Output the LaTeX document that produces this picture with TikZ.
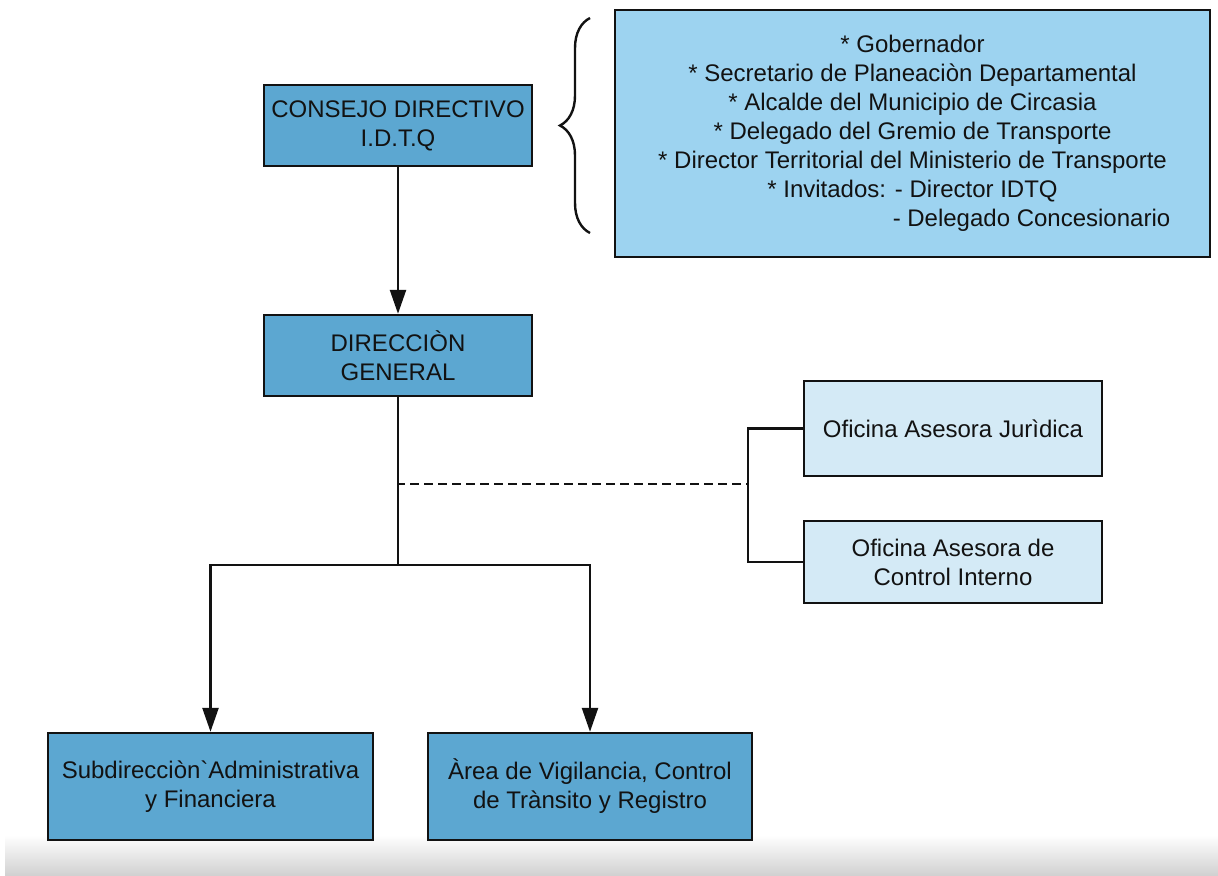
\documentclass[tikz,border=0pt]{standalone}
\usepackage{fontspec}
\setmainfont{Liberation Sans}
\usepackage{tikz}
\usetikzlibrary{arrows.meta}
\usetikzlibrary{decorations.pathreplacing}
\usepackage{xcolor}
\definecolor{boxdark}{RGB}{92,167,209}
\definecolor{boxmid}{RGB}{157,211,240}
\definecolor{boxlight}{RGB}{212,234,246}
\definecolor{ink}{RGB}{18,18,18}

\begin{document}
\begin{tikzpicture}[x=0.5pt, y=-0.5pt,
    font=\fontsize{12}{14.5}\selectfont, text=ink,
    unit/.style={draw=ink, line width=1.2pt, align=center, inner sep=0pt},
    link/.style={ink, line width=1.2pt},
    arr/.style={-{Triangle[length=12pt,width=8pt]}}]
				    		\useasboundingbox (0,0) rectangle (1218,875);
				    		\shade[top color=white, bottom color=black!18] (5,835) rectangle (1218,875);
				    		\node[unit, fill=boxdark, minimum width=134pt, minimum height=40.5pt] (consejo) at (398,125.5) {CONSEJO DIRECTIVO\\I.D.T.Q};
				    		\node[unit, fill=boxmid, minimum width=297.5pt, minimum height=123.5pt] (miembros) at (912.5,133.5) {* Gobernador\\* Secretario de Planeaciòn Departamental\\* Alcalde del Municipio de Circasia\\* Delegado del Gremio de Transporte\\* Director Territorial del Ministerio de Transporte\\* Invitados: - Director IDTQ\\\hspace*{119pt}- Delegado Concesionario};
				    		\node[unit, fill=boxdark, minimum width=134pt, minimum height=40.5pt] (direccion) at (398,355.5) {DIRECCIÒN\\GENERAL};
				    		\node[unit, fill=boxlight, minimum width=149pt, minimum height=47.5pt] (juridica) at (953,428.5) {Oficina Asesora Jurìdica};
				    		\node[unit, fill=boxlight, minimum width=149pt, minimum height=41pt] (control) at (953,562) {Oficina Asesora de\\Control Interno};
				    		\node[unit, fill=boxdark, minimum width=162.5pt, minimum height=53.5pt] (subdir) at (210.5,786.5) {Subdirecciòn\textasciigrave Administrativa\\y Financiera};
				    		\node[unit, fill=boxdark, minimum width=162pt, minimum height=53.5pt] (area) at (590,786.5) {Àrea de Vigilancia, Control\\de Trànsito y Registro};
				    		\coordinate (split) at (398,565);
				    		\coordinate (dash) at (398,484);
				    		\coordinate (rail) at (748,484);
				    		\draw[link, decorate, decoration={brace, amplitude=15pt, aspect=0.5}] (590,233) -- (590,18);
				    		\draw[link, arr] (consejo) -- (direccion);
				    		\draw[link] (direccion) -- (split);
				    		\draw[link, arr] (split) -| (subdir);
				    		\draw[link, arr] (split) -| (area);
				    		\draw[link, dash pattern=on 4.5pt off 2.5pt, dash phase=1pt] (dash) -- (rail);
				    		\draw[link] (juridica.west) -| (rail) |- (control.west);
				    	\end{tikzpicture}
\end{document}
